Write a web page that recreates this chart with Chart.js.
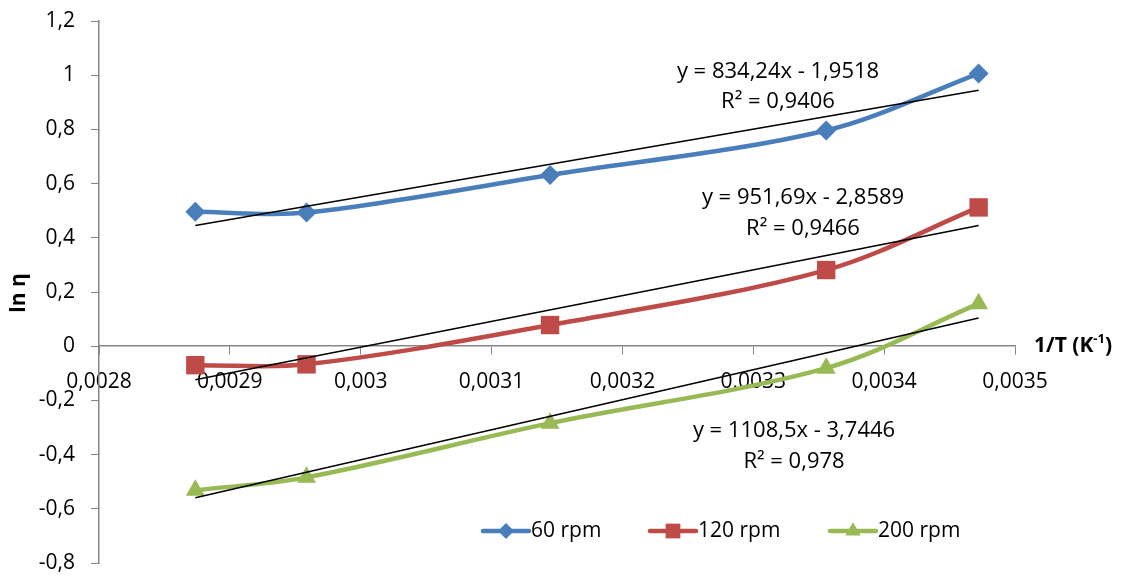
<!doctype html>
<html lang="en">
<head>
    <meta charset="utf-8">
    <title>ln η vs 1/T</title>
    <style>
        * {
            margin: 0;
            padding: 0;
        }

        body {
            background: #fff;
        }

        .chartBox {
            width: 1130px;
            height: 577px;
        }
    </style>
</head>
<body>
    <div class="chartBox">
        <canvas id="myChart" width="1130" height="577"></canvas>
    </div>
    <script src="https://cdn.jsdelivr.net/npm/chart.js"></script>
    <script>
        // data
        const invT = [0.0028736, 0.0029586, 0.0031447, 0.0033557, 0.0034722];
        const rpm60 = [0.496, 0.493, 0.632, 0.796, 1.006];
        const rpm120 = [-0.07, -0.067, 0.078, 0.281, 0.512];
        const rpm200 = [-0.532, -0.484, -0.284, -0.081, 0.157];
        const seriesNames = ['60 rpm', '120 rpm', '200 rpm'];

        // trendline coefficients as printed on the chart
        const slopes = [834.24, 951.69, 1108.5];
        const intercepts = [-1.9518, -2.8589, -3.7446];
        const eqTexts = ['y = 834,24x - 1,9518', 'y = 951,69x - 2,8589', 'y = 1108,5x - 3,7446'];
        const r2Texts = ['R² = 0,9406', 'R² = 0,9466', 'R² = 0,978'];

        const yTicks = [-0.8, -0.6, -0.4, -0.2, 0, 0.2, 0.4, 0.6, 0.8, 1, 1.2];
        const xTicks = [0.0028, 0.0029, 0.003, 0.0031, 0.0032, 0.0033, 0.0034, 0.0035];

        const colors = ['#4A7EBB', '#BE4B48', '#98B954'];
        const markers = ['rectRot', 'rect', 'triangle'];
        const markerSizes = [10, 13, 11];
        const FONT = '"Open Sans", sans-serif';

        const toPts = (ys) => ys.map((y, i) => ({ x: invT[i], y: y }));
        const comma = (v, d) => String(Number(v.toFixed(d))).replace('.', ',');

        const seriesSets = [rpm60, rpm120, rpm200].map((ys, i) => ({
            label: seriesNames[i],
            data: toPts(ys),
            borderColor: colors[i],
            backgroundColor: colors[i],
            borderWidth: 4.5,
            tension: 0.33,
            pointStyle: markers[i],
            pointRadius: markerSizes[i],
            pointBorderWidth: 0,
            pointHoverRadius: markerSizes[i],
            order: 2
        }));

        const xFirst = invT[0];
        const xLast = invT[invT.length - 1];
        const trendSets = slopes.map((m, i) => ({
            label: 'trend ' + seriesNames[i],
            data: [
                { x: xFirst, y: m * xFirst + intercepts[i] },
                { x: xLast, y: m * xLast + intercepts[i] }
            ],
            borderColor: '#000',
            borderWidth: 1.5,
            pointRadius: 0,
            tension: 0,
            order: 1
        }));

        // text labels, equations and legend
        const extras = {
            id: 'extras',
            afterDraw(chart) {
                const ctx = chart.ctx;
                const ys = chart.scales.y;
                ctx.save();
                ctx.fillStyle = '#000';
                ctx.textBaseline = 'middle';

                // equations
                ctx.font = '22px ' + FONT;
                ctx.textAlign = 'center';
                const eqPos = [[778, 72, 102], [803, 198, 229], [794, 431, 462]];
                eqPos.forEach((p, i) => {
                    ctx.fillText(eqTexts[i], p[0], p[1]);
                    ctx.fillText(r2Texts[i], p[0], p[2]);
                });

                // y axis title
                ctx.save();
                ctx.translate(19, 293);
                ctx.rotate(-Math.PI / 2);
                ctx.font = 'bold 21px ' + FONT;
                ctx.fillText('ln η', 0, 0);
                ctx.restore();

                // x axis title
                const yz = ys.getPixelForValue(0);
                ctx.textAlign = 'left';
                ctx.font = 'bold 21px ' + FONT;
                let tx = 1034;
                ctx.fillText('1/T (K', tx, yz);
                tx += ctx.measureText('1/T (K').width;
                ctx.font = 'bold 13px ' + FONT;
                ctx.fillText('-1', tx, yz - 7);
                tx += ctx.measureText('-1').width;
                ctx.font = 'bold 21px ' + FONT;
                ctx.fillText(')', tx, yz);

                // legend
                const legX = [483, 650, 830];
                const legY = 531;
                ctx.font = '21px ' + FONT;
                seriesNames.forEach((name, i) => {
                    ctx.strokeStyle = colors[i];
                    ctx.lineWidth = 4.5;
                    ctx.lineCap = 'round';
                    ctx.beginPath();
                    ctx.moveTo(legX[i], legY);
                    ctx.lineTo(legX[i] + 46, legY);
                    ctx.stroke();
                    ctx.fillStyle = colors[i];
                    Chart.helpers.drawPoint(ctx, {
                        pointStyle: markers[i],
                        radius: markerSizes[i] * 0.8,
                        rotation: 0,
                        borderWidth: 0
                    }, legX[i] + 23, legY);
                    ctx.fillStyle = '#000';
                    ctx.fillText(name, legX[i] + 48, legY);
                });
                ctx.restore();
            }
        };

        const config = {
            type: 'line',
            data: { datasets: [...trendSets, ...seriesSets] },
            options: {
                responsive: false,
                animation: false,
                layout: {
                    padding: { left: 0, right: 115, top: 21, bottom: 14 }
                },
                plugins: {
                    legend: { display: false },
                    tooltip: { enabled: false }
                },
                scales: {
                    x: {
                        type: 'linear',
                        position: { y: 0 },
                        min: 0.0028,
                        max: 0.0035,
                        afterBuildTicks: (scale) => {
                            scale.ticks = xTicks.map(v => ({ value: v }));
                        },
                        afterFit: (scale) => {
                            scale.paddingTop = 0;
                            scale.paddingBottom = 0;
                        },
                        ticks: {
                            color: '#000',
                            font: { family: FONT, size: 21 },
                            padding: 15,
                            maxRotation: 0,
                            autoSkip: false,
                            callback: (v) => comma(v, 6)
                        },
                        grid: {
                            drawOnChartArea: false,
                            drawTicks: true,
                            tickLength: 8,
                            color: '#868686'
                        },
                        border: { color: '#868686', width: 1.5 }
                    },
                    y: {
                        min: -0.8,
                        max: 1.2,
                        afterBuildTicks: (scale) => {
                            scale.ticks = yTicks.map(v => ({ value: v }));
                        },
                        afterFit: (scale) => {
                            scale.width = 99;
                            scale.paddingTop = 0;
                            scale.paddingBottom = 0;
                        },
                        ticks: {
                            color: '#000',
                            font: { family: FONT, size: 21 },
                            padding: 16,
                            callback: (v) => comma(v, 2)
                        },
                        grid: {
                            drawOnChartArea: false,
                            drawTicks: true,
                            tickLength: 8,
                            color: '#868686'
                        },
                        border: { color: '#868686', width: 1.5 }
                    }
                }
            },
            plugins: [extras]
        };

        const myChart = new Chart(document.getElementById('myChart'), config);
    </script>
</body>
</html>
